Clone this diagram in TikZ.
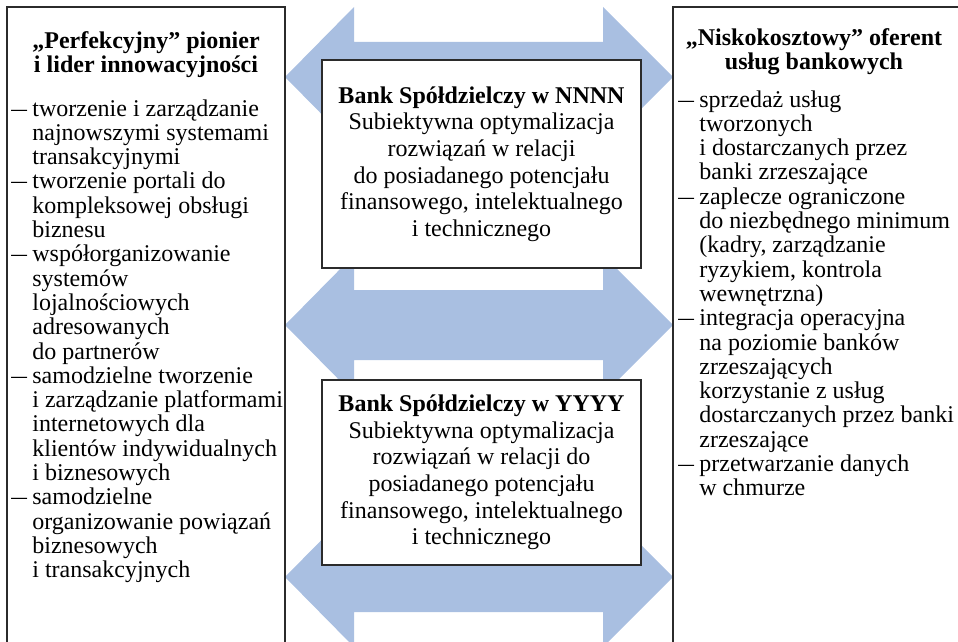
\documentclass[tikz,border=0pt]{standalone}
\usepackage{fontspec}
\setmainfont{Liberation Serif}
\usepackage{xcolor}
\usepackage{graphicx}
\usepackage{tikz}
\usetikzlibrary{positioning}
\definecolor{flowblue}{HTML}{A9BFE1}
\definecolor{frame}{HTML}{2B2B2B}
\tikzset{
  side/.style={draw=frame, line width=0.75pt},
  flow/.style={fill=flowblue},
  bank/.style={draw=frame, fill=white, line width=0.9pt, align=center, inner sep=0pt,
    minimum width=159.5pt, font=\fontsize{12}{13.3}\selectfont},
  head/.style={align=center, inner sep=0pt, font=\fontsize{12}{10.9}\selectfont\bfseries},
  list/.style={align=left, inner sep=0pt, font=\fontsize{12}{12.15}\selectfont},
}
\newcommand{\dsh}{\makebox[12pt][l]{\hspace{1.5pt}\scalebox{1.3}[1]{–}}}
\newcommand{\ind}{\hspace*{12pt}}

\begin{document}
\begin{tikzpicture}[x=0.5pt, y=-0.5pt]
  \useasboundingbox (0,0) rectangle (958,642);
  \clip (0,0) rectangle (958,642);

  % double arrows between the two profiles
  \def\hl{354}
  \def\hr{603}
  \foreach \yy in {77,325,577} {
    \fill[flow] (285,\yy) -- (\hl,\yy-70) -- (\hl,\yy-35) -- (\hr,\yy-35) -- (\hr,\yy-70)
      -- (673,\yy) -- (\hr,\yy+70) -- (\hr,\yy+35) -- (\hl,\yy+35) -- (\hl,\yy+70) -- cycle;
  }

  % side frames, open at the bottom
  \coordinate (pioneerTL) at (7,7);
  \coordinate (lowcostTL) at (673,7);
  \draw[side] (7,660) -- (pioneerTL) -- (285,7) -- (285,660);
  \draw[side] (673,660) -- (lowcostTL) -- (970,7);

  \node[head, anchor=north] (pioneer) at (146,31) {„Perfekcyjny” pionier\\i lider innowacyjności};
  \node[list, anchor=north west] (pioneerlist) at (8,99) {%
    \dsh tworzenie i zarządzanie\\
    \ind najnowszymi systemami\\
    \ind transakcyjnymi\\
    \dsh tworzenie portali do\\
    \ind kompleksowej obsługi\\
    \ind biznesu\\
    \dsh współorganizowanie\\
    \ind systemów\\
    \ind lojalnościowych\\
    \ind adresowanych\\
    \ind do partnerów\\
    \dsh samodzielne tworzenie\\
    \ind i zarządzanie platformami\\
    \ind internetowych dla\\
    \ind klientów indywidualnych\\
    \ind i biznesowych\\
    \dsh samodzielne\\
    \ind organizowanie powiązań\\
    \ind biznesowych\\
    \ind i transakcyjnych};

  \node[head, anchor=north] (lowcost) at (814,28) {„Niskokosztowy” oferent\\usług bankowych};
  \node[list, anchor=north west] (lowcostlist) at (675,90) {%
    \dsh sprzedaż usług\\
    \ind tworzonych\\
    \ind i dostarczanych przez\\
    \ind banki zrzeszające\\
    \dsh zaplecze ograniczone\\
    \ind do niezbędnego minimum\\
    \ind (kadry, zarządzanie\\
    \ind ryzykiem, kontrola\\
    \ind wewnętrzna)\\
    \dsh integracja operacyjna\\
    \ind na poziomie banków\\
    \ind zrzeszających\\
    \ind korzystanie z usług\\
    \ind dostarczanych przez banki\\
    \ind zrzeszające\\
    \dsh przetwarzanie danych\\
    \ind w chmurze};

  % the two cooperative banks
  \node[bank, minimum height=104pt] (nnnn) at (481.5,164) {%
    \textbf{Bank Spółdzielczy w NNNN}\\
    Subiektywna optymalizacja\\
    rozwiązań w relacji\\
    do posiadanego potencjału\\
    finansowego, intelektualnego\\
    i technicznego};
  \node[bank, minimum height=92.5pt] (yyyy) at (481.5,472.5) {%
    \textbf{Bank Spółdzielczy w YYYY}\\
    Subiektywna optymalizacja\\
    rozwiązań w relacji do\\
    posiadanego potencjału\\
    finansowego, intelektualnego\\
    i technicznego};
\end{tikzpicture}
\end{document}
